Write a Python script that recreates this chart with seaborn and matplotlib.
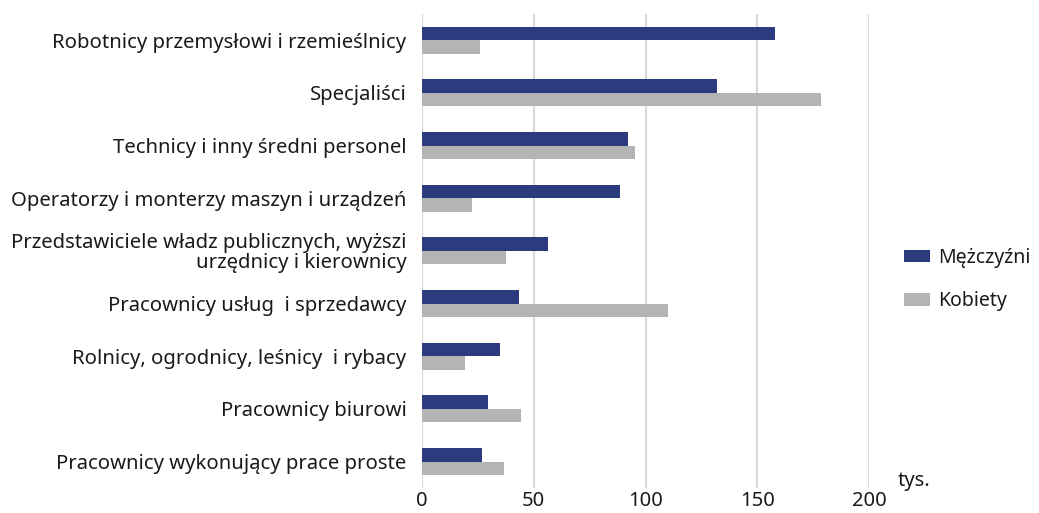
import matplotlib
matplotlib.use("Agg")
import matplotlib.pyplot as plt
import seaborn as sns
import pandas as pd

categories = [
    "Robotnicy przemysłowi i rzemieślnicy",
    "Specjaliści",
    "Technicy i inny średni personel",
    "Operatorzy i monterzy maszyn i urządzeń",
    "Przedstawiciele władz publicznych, wyższi\nurzędnicy i kierownicy",
    "Pracownicy usług  i sprzedawcy",
    "Rolnicy, ogrodnicy, leśnicy  i rybacy",
    "Pracownicy biurowi",
    "Pracownicy wykonujący prace proste",
]
men = [157.9, 131.9, 92.3, 88.6, 56.3, 43.5, 35.1, 29.6, 26.8]
women = [25.9, 178.3, 95.2, 22.2, 37.8, 109.9, 19.5, 44.4, 36.9]
series = ["Mężczyźni", "Kobiety"]
xticks = [0, 50, 100, 150, 200]

df = pd.DataFrame({
    "cat": categories * 2,
    "val": men + women,
    "sex": [series[0]] * len(categories) + [series[1]] * len(categories),
})

sns.set_theme(style="white")
plt.rcParams["font.family"] = ["Noto Sans", "DejaVu Sans"]

fig = plt.figure(figsize=(10.39, 5.13), dpi=100)
ax = fig.add_axes([0.406, 0.049, 0.4307, 0.924])

palette = {"Mężczyźni": "#2C3A7E", "Kobiety": "#B4B4B4"}
sns.barplot(data=df, y="cat", x="val", hue="sex", order=categories,
            hue_order=series, palette=palette, width=0.51, ax=ax,
            saturation=1, linewidth=0)

txt = "#1A1A1A"
ax.set_xlim(0, 200)
ax.set_ylim(8.5, -0.5)
ax.set_xticks(xticks)
ax.set_xticklabels([str(t) for t in xticks], fontsize=14.5, color=txt)
ax.tick_params(axis="y", labelsize=14.6, labelcolor=txt, length=0, pad=11)
ax.tick_params(axis="x", length=0, pad=2)
ax.set_xlabel("")
ax.set_ylabel("")
for s in ax.spines.values():
    s.set_visible(False)
ax.xaxis.grid(True, color="#D9D9D9", linewidth=1.6)
ax.set_axisbelow(True)

for lbl in ax.get_yticklabels():
    lbl.set_horizontalalignment("right")
    lbl.set_multialignment("right")
    lbl.set_linespacing(0.95)

handles, labels = ax.get_legend_handles_labels()
ax.legend_.remove()
fig.legend(handles, labels, loc="center left", bbox_to_anchor=(0.853, 0.455),
           frameon=False, fontsize=14, handlelength=1.35, handleheight=0.6,
           handletextpad=0.4, labelspacing=1.2, labelcolor=txt)

fig.text(914 / 1039, 1 - 481 / 513, "tys.", fontsize=14.5, color=txt,
         ha="center", va="center")

fig.savefig("out.png", dpi=100)
